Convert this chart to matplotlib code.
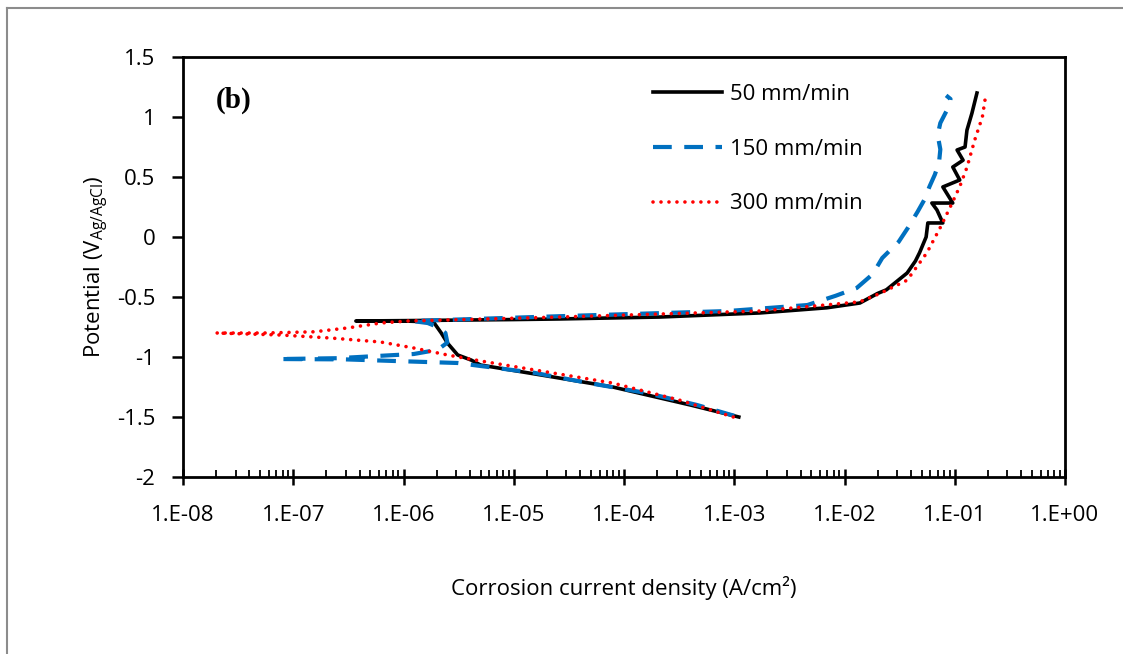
import numpy as np
import matplotlib
matplotlib.use("Agg")
import matplotlib.pyplot as plt
from matplotlib.lines import Line2D
from matplotlib.ticker import FixedLocator, LogLocator, FuncFormatter

plt.rcParams['font.family'] = ['Open Sans', 'DejaVu Sans']

# 50 mm/min  (cathodic branch up to Ecorr, then anodic branch)
i_50 = [1.1e-3, 4.0e-4, 7.9e-5, 2.0e-5, 5.0e-6, 4.1e-6, 3.1e-6, 2.5e-6, 2.2e-6, 1.87e-6,
        1.0e-6, 3.7e-7, 1.0e-6, 1.0e-5, 2.6e-5, 2.1e-4, 1.7e-3, 6.9e-3, 1.38e-2, 2.0e-2,
        2.4e-2, 3.7e-2, 4.4e-2, 4.8e-2, 5.5e-2, 5.7e-2, 7.8e-2, 6.9e-2, 6.2e-2, 9.6e-2,
        7.8e-2, 1.11e-1, 9.6e-2, 1.19e-1, 1.05e-1, 1.24e-1, 1.29e-1, 1.43e-1, 1.59e-1]
E_50 = [-1.50, -1.40, -1.25, -1.158, -1.067, -1.025, -0.983, -0.883, -0.80, -0.708,
        -0.70, -0.70, -0.697, -0.688, -0.683, -0.667, -0.633, -0.59, -0.55, -0.47,
        -0.44, -0.30, -0.20, -0.13, 0.0, 0.117, 0.117, 0.225, 0.283, 0.283,
        0.417, 0.475, 0.583, 0.64, 0.725, 0.75, 0.89, 1.03, 1.20]

# 150 mm/min
i_150 = [1.0e-3, 4.6e-4, 1.6e-4, 5.0e-5, 1.5e-5, 5.0e-6, 3.1e-6, 8.1e-7, 3.0e-7, 7.4e-8,
         2.5e-7, 6.2e-7, 1.24e-6, 2.04e-6, 2.5e-6, 2.4e-6, 2.04e-6, 1.66e-6, 1.2e-6,
         2.6e-5, 8.7e-4, 4.6e-3, 8.3e-3, 1.29e-2, 1.8e-2, 2.2e-2, 3.1e-2, 3.75e-2,
         4.6e-2, 5.3e-2, 5.9e-2, 6.6e-2, 7.2e-2, 7.4e-2, 7.0e-2, 7.4e-2, 8.2e-2,
         9.0e-2, 9.15e-2, 8.35e-2]
E_150 = [-1.49, -1.40, -1.30, -1.22, -1.13, -1.075, -1.05, -1.033, -1.02, -1.017,
         -1.01, -0.99, -0.975, -0.94, -0.88, -0.80, -0.75, -0.717, -0.70,
         -0.66, -0.617, -0.567, -0.49, -0.425, -0.31, -0.175, -0.04, 0.075,
         0.21, 0.31, 0.42, 0.52, 0.62, 0.73, 0.85, 0.95, 1.03,
         1.10, 1.15, 1.18]

# 300 mm/min
i_300 = [9.8e-4, 3.2e-4, 7.9e-5, 2.0e-5, 5.0e-6, 2.5e-6, 1.24e-6, 6.2e-7, 2.2e-7, 7.8e-8,
         2.0e-8, 5.4e-8, 1.55e-7, 3.1e-7, 6.2e-7, 1.1e-6, 2.6e-5, 1.7e-3, 1.38e-2,
         2.1e-2, 3.7e-2, 5.6e-2, 7.4e-2, 9.1e-2, 1.11e-1, 1.29e-1, 1.52e-1, 1.78e-1,
         1.88e-1, 1.78e-1]
E_300 = [-1.50, -1.36, -1.217, -1.125, -1.033, -0.983, -0.925, -0.875, -0.842, -0.817,
         -0.80, -0.80, -0.79, -0.758, -0.717, -0.70, -0.667, -0.617, -0.54,
         -0.47, -0.36, -0.13, 0.08, 0.25, 0.42, 0.58, 0.81, 1.0,
         1.14, 1.18]

fig = plt.figure(figsize=(11.23, 6.54), dpi=100)
ax = fig.add_axes([183 / 1123, 1 - 477 / 654, (1065 - 183) / 1123, (477 - 57) / 654])

ax.plot(i_50, E_50, color='black', lw=2.6, label='50 mm/min')
ax.plot(i_150, E_150, color='#0070C0', lw=3.0, linestyle=(0, (4.5, 3)), label='150 mm/min')
ax.plot(i_300, E_300, color='#FF0000', lw=2.6, linestyle=(0, (0.01, 2.2)),
        dash_capstyle='round', label='300 mm/min')

ax.set_xscale('log')
ax.set_xlim(1e-8, 1e0)
ax.set_ylim(-2, 1.5)
ax.xaxis.set_major_locator(FixedLocator([10.0 ** k for k in range(-8, 1)]))
ax.xaxis.set_minor_locator(LogLocator(base=10, subs=np.arange(2, 10), numticks=20))
ax.xaxis.set_major_formatter(FuncFormatter(lambda v, p: "1.E%+03d" % int(round(np.log10(v)))))
ax.yaxis.set_major_locator(FixedLocator(np.arange(-2, 1.51, 0.5)))
ax.yaxis.set_major_formatter(FuncFormatter(lambda v, p: "%g" % v))

for s in ax.spines.values():
    s.set_linewidth(2.0)
ax.tick_params(axis='x', which='major', direction='inout', length=12, width=1.8,
               labelsize=16, pad=14)
ax.tick_params(axis='x', which='minor', direction='in', length=5, width=1.3)
ax.tick_params(axis='y', which='major', direction='out', length=8, width=1.8,
               labelsize=16, pad=12)

ax.set_xlabel('Corrosion current density (A/cm²)', fontsize=16, labelpad=36)
ax.set_ylabel(r'Potential (V$_{\mathregular{Ag/AgCl}}$)', fontsize=16, labelpad=4)

ax.text(0.037, 0.898, '(b)', transform=ax.transAxes, ha='left', va='center',
        fontsize=21, fontweight='bold', family=['Liberation Serif', 'DejaVu Serif'])

ax.legend(loc='upper left', bbox_to_anchor=(0.533, 0.936), frameon=False, fontsize=16,
          handlelength=3.1, handletextpad=0.35, labelspacing=1.52,
          borderpad=0, borderaxespad=0)

# grey chart-area border (top and left edges visible)
fig.add_artist(Line2D([7 / 1123, 7 / 1123], [0, 1 - 8 / 654], transform=fig.transFigure,
                      color='#8c8c8c', lw=1.5))
fig.add_artist(Line2D([7 / 1123, 1], [1 - 8 / 654, 1 - 8 / 654], transform=fig.transFigure,
                      color='#8c8c8c', lw=1.5))

fig.savefig('out.png', dpi=100)
